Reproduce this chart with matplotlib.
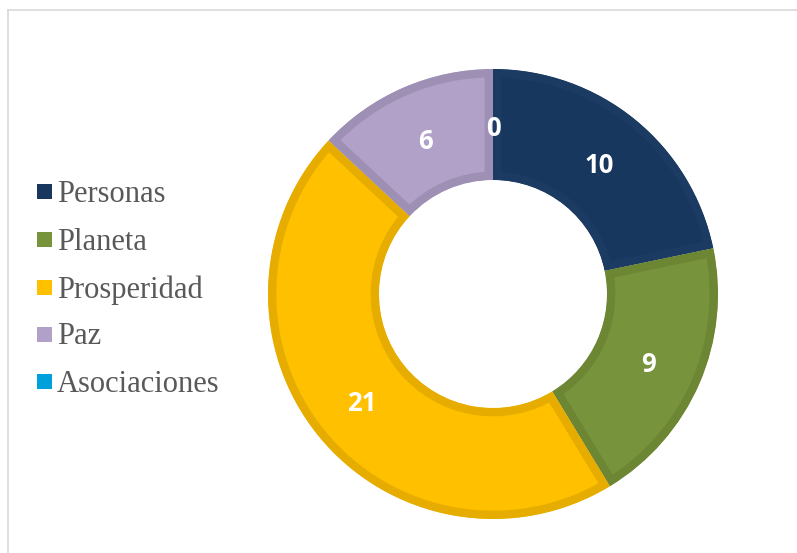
import matplotlib
matplotlib.use("Agg")
import matplotlib.pyplot as plt
import numpy as np
from matplotlib.lines import Line2D
from matplotlib.patches import Rectangle, Wedge

categories = ["Personas", "Planeta", "Prosperidad", "Paz", "Asociaciones"]
values = [10, 9, 21, 6, 0]
fill_colors = ["#17375E", "#77933C", "#FFC000", "#B1A0C7", "#00A0DC"]
edge_colors = ["#1B3B63", "#6C8634", "#E6AD00", "#9E8FB4", "#0090C6"]

W, H = 797, 553
fig = plt.figure(figsize=(W / 100, H / 100), dpi=100)
fig.patch.set_facecolor("white")

# frame lines (top and left)
fig.add_artist(Line2D([8 / W, 1], [1 - 10 / H, 1 - 10 / H], color="#D9D9D9", lw=1.2))
fig.add_artist(Line2D([8 / W, 8 / W], [1 - 10 / H, 0], color="#D9D9D9", lw=1.2))

cx, cy, R = 493, 294, 225
half = 235
ax = fig.add_axes([(cx - half) / W, (H - cy - half) / H, 2 * half / W, 2 * half / H])

width = 1 - 114 / R
wedges, _ = ax.pie(values, colors=fill_colors, startangle=90, counterclock=False,
                   radius=1.0, wedgeprops=dict(width=width, linewidth=0))
ax.set_xlim(-half / R, half / R)
ax.set_ylim(-half / R, half / R)
ax.set_aspect("equal")
ax.axis("off")

for w, ec, v in zip(wedges, edge_colors, values):
    if v == 0:
        w.set_visible(False)
        continue
    clip = Wedge(w.center, w.r, w.theta1, w.theta2, width=w.width,
                 transform=ax.transData)
    w.set_edgecolor(ec)
    w.set_linewidth(12)
    w.set_joinstyle("miter")
    w.set_clip_on(True)
    w.set_clip_path(clip)

lab_r = 169 / R
for w, v in zip(wedges, values):
    mid = np.deg2rad((w.theta1 + w.theta2) / 2)
    ax.text(lab_r * np.cos(mid), lab_r * np.sin(mid) - 3 / R, str(v), ha="center", va="center",
            color="white", fontsize=18.5, fontweight="bold", family="Open Sans")

# legend
ys = [191, 239, 287, 334, 381]
for cat, col, y in zip(categories, fill_colors, ys):
    fig.add_artist(Rectangle((37 / W, 1 - (y + 8) / H), 15 / W, 15 / H,
                             transform=fig.transFigure, facecolor=col, edgecolor="none"))
    fig.text(57 / W, 1 - (y + 3) / H, cat, ha="left", va="center", fontsize=22,
             family="Liberation Serif", color="#595959")

fig.savefig("out.png", dpi=100, facecolor="white")
